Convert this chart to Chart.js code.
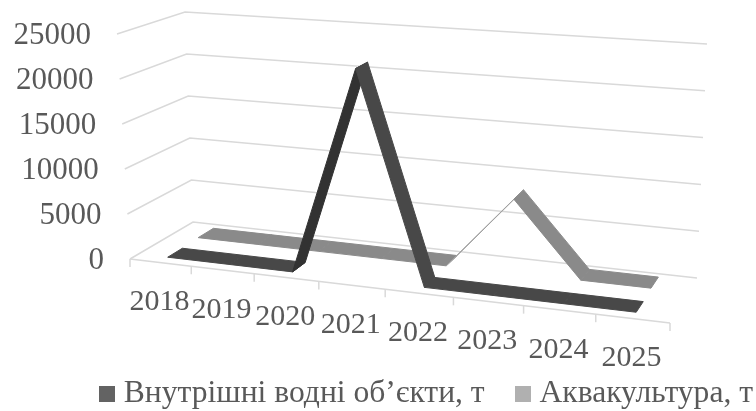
<!DOCTYPE html>
<html>
<head>
<meta charset="utf-8">
<style>
  html, body { margin: 0; background: #fff; }
  canvas { display: block; }
</style>
<script src="https://cdn.jsdelivr.net/npm/chart.js@4/dist/chart.umd.min.js"></script>
</head>
<body>
<canvas id="myChart" width="756" height="411"></canvas>
<script>
const years = ['2018', '2019', '2020', '2021', '2022', '2023', '2024', '2025'];
const inland = [100, 100, 100, 22700, 100, 100, 100, 100];
const aquaculture = [200, 200, 200, 200, 200, 8200, 300, 300];
const seriesNames = ['Внутрішні водні об’єкти, т', 'Аквакультура, т'];

// corners of the 3d box on the page
const floorFL = [130, 259], floorFR = [670, 323], floorBL = [193, 222], floorBR = [697, 278];
const topFL = [117, 34], topFR = [683, 73], topBL = [185, 12], topBR = [707, 44];
const perspective = 0.116;

const bands = [[0.12, 0.36], [0.62, 0.87]];
const faces = [
  { flat: '#484848', rise: '#323232' },
  { flat: '#8a8a8a', rise: '#a0a0a0' }
];

const lerp = (a, b, t) => [a[0] + (b[0] - a[0]) * t, a[1] + (b[1] - a[1]) * t];

function project(u, v, d) {
  const w = u / (1 + perspective * (1 - u));
  const low = lerp(lerp(floorFL, floorFR, w), lerp(floorBL, floorBR, w), d);
  const high = lerp(lerp(topFL, topFR, w), lerp(topBL, topBR, w), d);
  return lerp(low, high, v);
}

// legend square, as an image so the text can sit closer than chart.js would put it
function swatch(color) {
  const s = document.createElement('canvas');
  s.width = 16;
  s.height = 16;
  const g = s.getContext('2d');
  g.fillStyle = color;
  g.fillRect(0, 0, 16, 16);
  return s;
}

const box3d = {
  id: 'box3d',
  beforeDatasetsDraw(chart) {
    const c = chart.ctx;
    const area = chart.chartArea;
    const xs = chart.scales.x;
    const ys = chart.scales.y;
    const toU = x => (x - area.left) / area.width;
    const toV = y => (area.bottom - y) / area.height;

    function polyline(pts) {
      c.beginPath();
      pts.forEach((p, i) => i ? c.lineTo(p[0], p[1]) : c.moveTo(p[0], p[1]));
      c.stroke();
    }

    // walls and floor
    c.save();
    c.strokeStyle = '#d9d9d9';
    c.lineWidth = 1.5;
    ys.ticks.forEach(t => {
      const v = toV(ys.getPixelForValue(t.value));
      polyline([project(0, v, 0), project(0, v, 1), project(1, v, 1)]);
    });
    polyline([project(0, 0, 0), project(1, 0, 0)]);
    for (let i = 0; i <= years.length; i++) {
      const p = project(i / years.length, 0, 0);
      polyline([p, [p[0], p[1] + 8]]);
    }

    // axis text
    c.fillStyle = '#595959';
    c.font = '31px "Liberation Serif"';
    c.textAlign = 'right';
    c.textBaseline = 'middle';
    ys.ticks.forEach(t => {
      const p = project(0, toV(ys.getPixelForValue(t.value)), 0);
      c.fillText(String(t.value), p[0] - 26, p[1] + 2);
    });
    c.font = '30px "Liberation Serif"';
    c.textAlign = 'center';
    xs.ticks.forEach(t => {
      const p = project(toU(xs.getPixelForValue(t.value)), 0, 0);
      c.fillText(xs.getLabelForValue(t.value), p[0] - 1, p[1] + 40);
    });

    // ribbons, back series first
    for (let s = chart.data.datasets.length - 1; s >= 0; s--) {
      const pts = chart.getDatasetMeta(s).data;
      for (let i = 0; i < pts.length - 1; i++) {
        const u0 = toU(pts[i].x), v0 = toV(pts[i].y);
        const u1 = toU(pts[i + 1].x), v1 = toV(pts[i + 1].y);
        const col = v1 - v0 > 0.02 ? faces[s].rise : faces[s].flat;
        const q = [
          project(u0, v0, bands[s][0]), project(u0, v0, bands[s][1]),
          project(u1, v1, bands[s][1]), project(u1, v1, bands[s][0])
        ];
        c.fillStyle = col;
        c.strokeStyle = col;
        c.lineWidth = 1;
        c.beginPath();
        q.forEach((p, k) => k ? c.lineTo(p[0], p[1]) : c.moveTo(p[0], p[1]));
        c.closePath();
        c.fill();
        c.stroke();
      }
    }
    c.restore();
    return false;
  }
};

new Chart(document.getElementById('myChart').getContext('2d'), {
  type: 'line',
  data: {
    labels: years,
    datasets: [
      { label: seriesNames[0], data: inland, pointStyle: swatch('#636363') },
      { label: seriesNames[1], data: aquaculture, pointStyle: swatch('#b0b0b0') }
    ]
  },
  options: {
    responsive: false,
    animation: false,
    // negative padding: the legend box is wider than the page so both items stay on one line
    layout: { padding: { left: 60, right: -43, bottom: -9 } },
    scales: {
      x: { display: false, offset: true },
      y: { display: false, min: 0, max: 25000, ticks: { stepSize: 5000 } }
    },
    plugins: {
      tooltip: { enabled: false },
      legend: {
        position: 'bottom',
        labels: {
          usePointStyle: true,
          pointStyleWidth: 2,
          boxHeight: 16,
          padding: 37,
          color: '#595959',
          font: { family: 'Liberation Serif', size: 31.6 }
        }
      }
    }
  },
  plugins: [box3d]
});
</script>
</body>
</html>
